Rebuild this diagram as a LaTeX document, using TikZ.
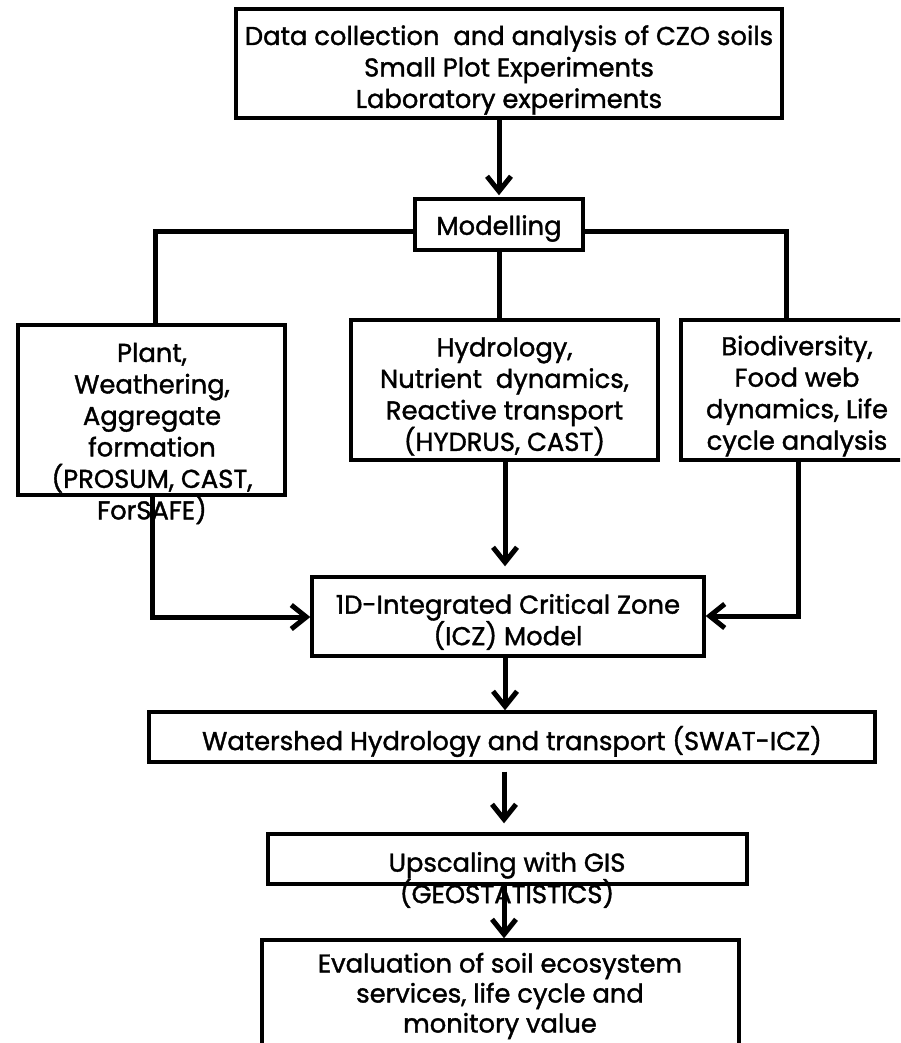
\documentclass[tikz,border=0pt]{standalone}
\usepackage{fontspec}
\setmainfont{Poppins}[FakeBold=1.4]
\usetikzlibrary{arrows.meta,calc}

\begin{document}
\begin{tikzpicture}[x=1pt,y=-1pt,
  box/.style={draw, line width=3.4pt, inner sep=0pt, rectangle},
  txt/.style={align=center, inner sep=0pt, font=\fontsize{25.8}{31.5}\selectfont},
  txtlow/.style={align=center, inner sep=0pt, font=\fontsize{25.8}{30}\selectfont},
  link/.style={line width=5pt},
  arr/.style={link, -{Straight Barb[length=15pt,width=24pt]}}]

\useasboundingbox (0,0) rectangle (900,1043);
\clip (0,0) rectangle (900,1043);

% boxes
\node[box, minimum width=546pt, minimum height=109pt] (top) at (509,63.5) {};
\node[box, minimum width=168pt, minimum height=51pt] (model) at (499,224.5) {};
\node[box, minimum width=267pt, minimum height=170pt] (plant) at (151.5,410) {};
\node[box, minimum width=307pt, minimum height=140pt] (hydro) at (504.5,390) {};
\node[box, minimum width=224pt, minimum height=140pt] (bio) at (793,390) {};
\node[box, minimum width=392pt, minimum height=79pt] (icz) at (508,616.5) {};
\node[box, minimum width=726pt, minimum height=50pt] (ws) at (512,737) {};
\node[box, minimum width=479pt, minimum height=50pt] (ups) at (507.5,859) {};
\node[box, minimum width=477pt, minimum height=140pt] (eval) at (500.5,1010) {};

% texts
\node[txt] (ttop) at (509,70) {Data collection\ \ and analysis of CZO soils\\Small Plot Experiments\\Laboratory experiments};
\node[txt] (tmodel) at (499,228.5) {Modelling};
\node[txt] (tplant) at (152,433.5) {Plant,\\Weathering,\\Aggregate\\formation\\(PROSUM, CAST,\\ForSAFE)};
\node[txt] (thydro) at (504.5,396.5) {Hydrology,\\Nutrient\ \ dynamics,\\Reactive transport\\(HYDRUS, CAST)};
\node[txt] (tbio) at (797,396) {Biodiversity,\\Food web\\dynamics, Life\\cycle analysis};
\node[txt] (ticz) at (508,622) {1D-Integrated Critical Zone\\(ICZ) Model};
\node[txt] (tws) at (512,741.5) {Watershed Hydrology and transport (SWAT-ICZ)};
\node[txt] (tups) at (507,880) {Upscaling with GIS\\(GEOSTATISTICS)};
\node[txtlow] (teval) at (500,996) {Evaluation of soil ecosystem\\services, life cycle and\\monitory value};

% junction points of the tree below Modelling
\coordinate (jl) at (155,231);
\coordinate (jr) at (786,231);
\coordinate (cl) at (152,617);
\coordinate (cr) at (798,616);

% connectors
\draw[arr, shorten >=2pt] (top.south -| model) -- (model);
\draw[link] (model.west |- jl) -- (jl) -- (jl |- plant.north);
\draw[link] (model.east |- jr) -- (jr) -- (jr |- bio.north);
\draw[link] (model.south) -- (model.south |- hydro.north);
\draw[arr, shorten >=9pt] (hydro.south -| icz.north) ++(-3,0) coordinate (hs) -- (hs |- icz.north);
\draw[arr] (cl |- plant.south) -- (cl) -- (cl -| icz.west);
\draw[arr] (cr |- bio.south) -- (cr) -- (cr -| icz.east);
\draw[arr] ($(icz.south)+(-3,0)$) coordinate (is) -- (is |- ws.north);
\draw[arr, shorten <=8pt, shorten >=9pt] ($(ws.south)+(-8,0)$) coordinate (wsb) -- (wsb |- ups.north);
\draw[arr] ($(ups.south)+(-3.5,0)$) coordinate (ub) -- (ub |- eval.north);
\end{tikzpicture}
\end{document}
